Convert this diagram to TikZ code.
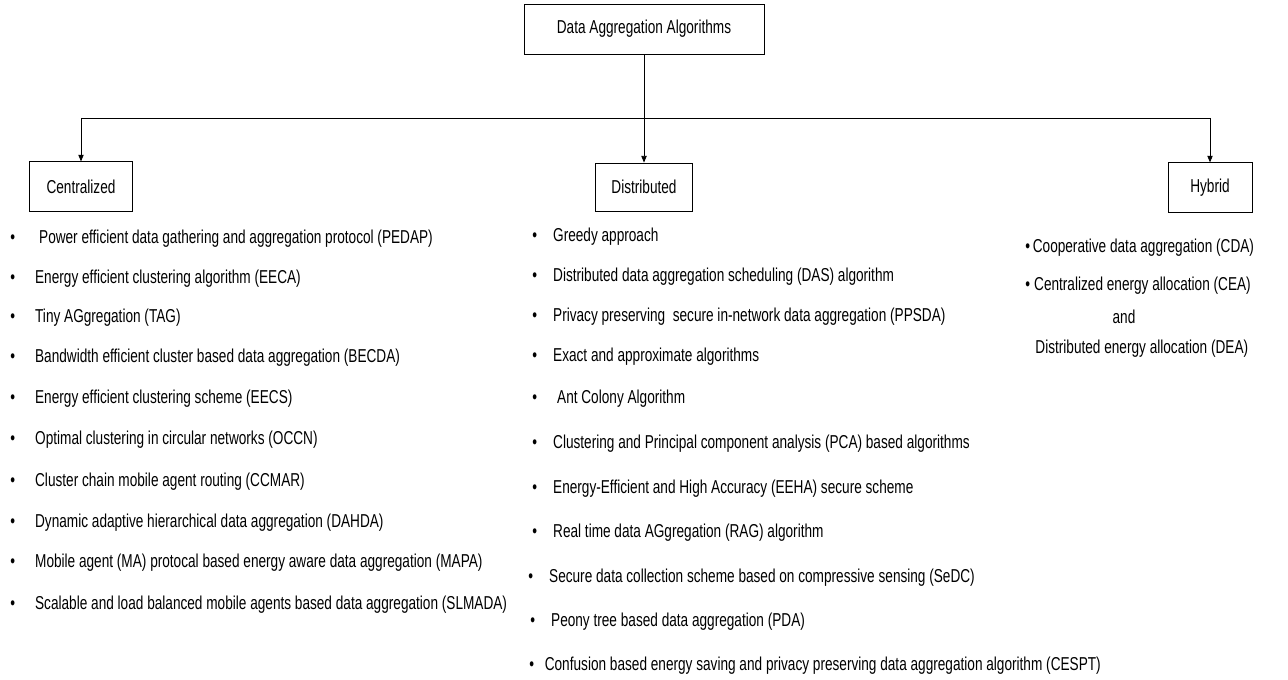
\documentclass[tikz,border=0pt]{standalone}
\usepackage{fontspec}
\setmainfont{Liberation Sans}[FakeStretch=0.73]
\usetikzlibrary{arrows.meta}

\tikzset{every picture/.style={line width=0.6pt}}
\tikzset{
  catbox/.style={draw, inner sep=0pt, font=\fontsize{14}{16}\selectfont},
  itemtext/.style={anchor=west, inner sep=0pt, font=\fontsize{14}{16}\selectfont},
  downarrow/.style={-{Triangle[length=5pt,width=4pt]}}
}
\newcommand{\itm}[2][15pt]{\textbullet\hspace{#1}#2}

\begin{document}
\begin{tikzpicture}[x=0.75pt,y=0.75pt,yscale=-1,xscale=1]
\useasboundingbox (0,0) rectangle (1288,680);

% Flowchart: Process
\node [catbox, minimum width=180pt, minimum height=37.5pt] (root) at (644,29) {Data Aggregation Algorithms};
% Flowchart: Process
\node [catbox, minimum width=77pt, minimum height=37pt] (cent) at (81,186.5) {Centralized};
% Flowchart: Process
\node [catbox, minimum width=73pt, minimum height=36pt] (dist) at (644,187) {Distributed};
% Flowchart: Process
\node [catbox, minimum width=63pt, minimum height=37pt] (hyb) at (1210,187.5) {Hybrid};

% Straight Lines
\coordinate (bus) at (644,118);
\draw (root) -- (bus);
\draw (cent.north |- bus) -- (hyb.north |- bus);
\draw [downarrow] (cent.north |- bus) -- (cent.north);
\draw [downarrow] (bus) -- (dist.north);
\draw [downarrow] (hyb.north |- bus) -- (hyb.north);

% Text Node
\node [itemtext] (c1) at (10,239) {\itm[18pt]{Power efficient data gathering and aggregation protocol (PEDAP)}};
% Text Node
\node [itemtext] (c2) at (10,279) {\itm{Energy efficient clustering algorithm (EECA)}};
% Text Node
\node [itemtext] (c3) at (10,318) {\itm{Tiny AGgregation (TAG)}};
% Text Node
\node [itemtext] (c4) at (10,358) {\itm{Bandwidth efficient cluster based data aggregation (BECDA)}};
% Text Node
\node [itemtext] (c5) at (10,399) {\itm{Energy efficient clustering scheme (EECS)}};
% Text Node
\node [itemtext] (c6) at (10,440) {\itm{Optimal clustering in circular networks (OCCN)}};
% Text Node
\node [itemtext] (c7) at (10,482) {\itm{Cluster chain mobile agent routing (CCMAR)}};
% Text Node
\node [itemtext] (c8) at (10,523) {\itm{Dynamic adaptive hierarchical data aggregation (DAHDA)}};
% Text Node
\node [itemtext] (c9) at (10,563) {\itm{Mobile agent (MA) protocal based energy aware data aggregation (MAPA)}};
% Text Node
\node [itemtext] (c10) at (10,605) {\itm{Scalable and load balanced mobile agents based data aggregation (SLMADA)}};

% Text Node
\node [itemtext] (d1) at (532,237) {\itm[12pt]{Greedy approach}};
% Text Node
\node [itemtext] (d2) at (532,277) {\itm[12pt]{Distributed data aggregation scheduling (DAS) algorithm}};
% Text Node
\node [itemtext] (d3) at (532,317) {\itm[12pt]{Privacy preserving\ \ secure in-network data aggregation (PPSDA)}};
% Text Node
\node [itemtext] (d4) at (532,357) {\itm[12pt]{Exact and approximate algorithms}};
% Text Node
\node [itemtext] (d5) at (532,399) {\itm[15pt]{Ant Colony Algorithm}};
% Text Node
\node [itemtext] (d6) at (532,444) {\itm[12pt]{Clustering and Principal component analysis (PCA) based algorithms}};
% Text Node
\node [itemtext] (d7) at (532,489) {\itm[12pt]{Energy-Efficient and High Accuracy (EEHA) secure scheme}};
% Text Node
\node [itemtext] (d8) at (532,533) {\itm[12pt]{Real time data AGgregation (RAG) algorithm}};
% Text Node
\node [itemtext] (d9) at (528,578) {\itm[12pt]{Secure data collection scheme based on compressive sensing (SeDC)}};
% Text Node
\node [itemtext] (d10) at (530,622) {\itm[12pt]{Peony tree based data aggregation (PDA)}};
% Text Node
\node [itemtext] (d11) at (529,666) {\itm[8pt]{Confusion based energy saving and privacy preserving data aggregation algorithm (CESPT)}};

% Text Node
\node [itemtext] (h1) at (1025,248) {\itm[2pt]{Cooperative data aggregation (CDA)}};
% Text Node
\node [itemtext] (h2) at (1025,286) {\itm[3pt]{Centralized energy allocation (CEA)}};
% Text Node
\node [inner sep=0pt, font=\fontsize{14}{16}\selectfont] (h3) at (1124,317) {and};
% Text Node
\node [itemtext] (h4) at (1035,349) {Distributed energy allocation (DEA)};

\end{tikzpicture}
\end{document}
